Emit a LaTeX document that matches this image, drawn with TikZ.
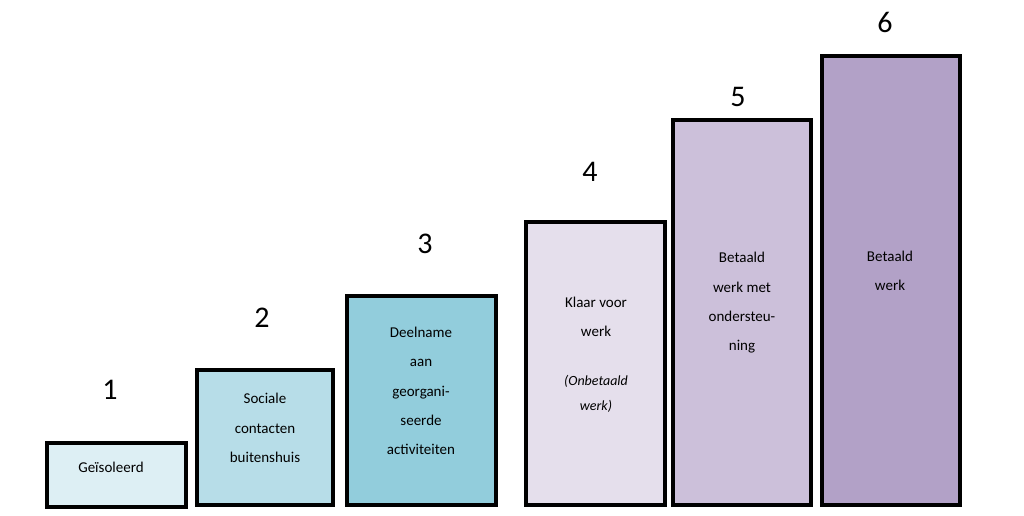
\documentclass[tikz,border=0pt]{standalone}
\usepackage{fontspec}
\setmainfont{Carlito}
\begin{document}
\begin{tikzpicture}[x=1pt,y=-1pt,
  bar/.style={draw=black,line width=3.5pt},
  lbl/.style={align=center,font=\fontsize{15}{29.3}\selectfont,inner sep=0pt},
  num/.style={font=\fontsize{30}{32}\selectfont,inner sep=0pt}]
\useasboundingbox (0,0) rectangle (1024,516);
\definecolor{c1}{HTML}{DDEFF4}\definecolor{c2}{HTML}{B7DDE8}\definecolor{c3}{HTML}{92CDDC}
\definecolor{c4}{HTML}{E5DFEC}\definecolor{c5}{HTML}{CCC0DA}\definecolor{c6}{HTML}{B2A1C7}
\draw[bar,fill=c1] (47,443) rectangle (186,507);
\draw[bar,fill=c2] (197,370) rectangle (333,505);
\draw[bar,fill=c3] (347,296) rectangle (496,505);
\draw[bar,fill=c4] (526,222) rectangle (665,505);
\draw[bar,fill=c5] (673,120) rectangle (811,505);
\draw[bar,fill=c6] (822,56) rectangle (960,505);
\node[num] (n1) at (110,390) {1};
\node[num] (n2) at (262,318) {2};
\node[num] (n3) at (425,244) {3};
\node[num] (n4) at (590,172) {4};
\node[num] (n5) at (738,97) {5};
\node[num] (n6) at (885,22) {6};
\node[lbl] (t1) at (111,467) {Geïsoleerd};
\node[lbl] (t2) at (265,428) {Sociale\\contacten\\buitenshuis};
\node[lbl] (t3) at (421,391) {Deelname\\aan\\georgani-\\seerde\\activiteiten};
\node[lbl] (t4) at (596,317) {Klaar voor\\werk};
\node[lbl,font=\fontsize{14}{25}\selectfont\itshape] (t4b) at (596,394) {(Onbetaald\\werk)};
\node[lbl] (t5) at (742,303) {Betaald\\werk met\\ondersteu-\\ning};
\node[lbl] (t6) at (890,271) {Betaald\\werk};
\end{tikzpicture}
\end{document}
